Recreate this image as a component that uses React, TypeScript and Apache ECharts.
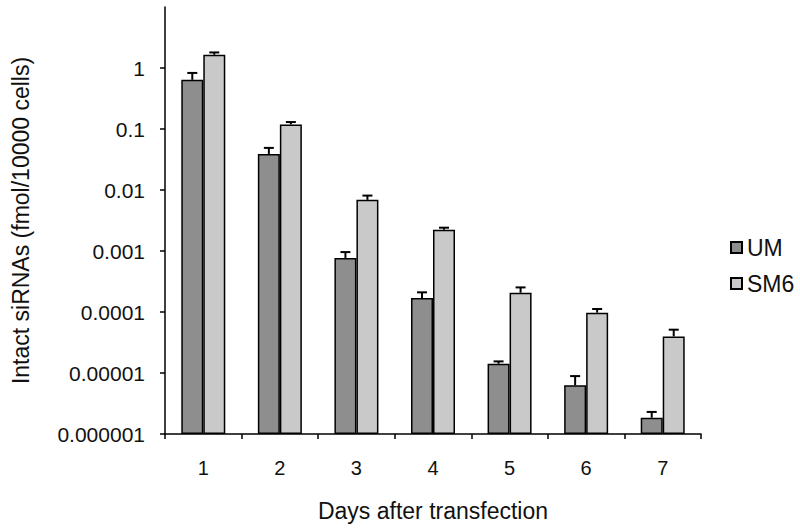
import React, { useEffect, useRef } from "react";
import * as echarts from "echarts";

const days = ["1", "2", "3", "4", "5", "6", "7"];
const umMean = [0.64, 0.039, 0.00077, 0.00017, 0.0000142, 0.0000063, 0.00000185];
const umErr = [0.19, 0.01, 0.00019, 0.00004, 0.0000013, 0.0000026, 0.00000045];
const sm6Mean = [1.65, 0.119, 0.0069, 0.00223, 0.000207, 0.0000975, 0.0000398];
const sm6Err = [0.15, 0.011, 0.0012, 0.00018, 0.000046, 0.0000145, 0.0000115];
const yTicks = [0.000001, 0.00001, 0.0001, 0.001, 0.01, 0.1, 1];

const FONT = "'Liberation Sans', Arial, Helvetica, sans-serif";
const UM_COLOR = "#8e8e8e";
const SM6_COLOR = "#c9c9c9";
const BAR_W = 22;

function fmt(v: number): string {
  const e = Math.round(Math.log10(v));
  if (e > 0) return "";
  if (e === 0) return "1";
  return Number("1e" + e).toFixed(-e);
}

function errSeries(name: string, means: number[], errs: number[], offset: number) {
  return {
    name: name + " err",
    type: "custom",
    z: 5,
    silent: true,
    data: means.map((m, i) => [i, m, m + errs[i]]),
    encode: { x: 0, y: 2 },
    renderItem: (params: any, api: any) => {
      const base = api.coord([api.value(0), api.value(1)]);
      const top = api.coord([api.value(0), api.value(2)]);
      const x = base[0] + offset;
      const cap = 5;
      return {
        type: "group",
        children: [
          {
            type: "line",
            shape: { x1: x, y1: base[1], x2: x, y2: top[1] },
            style: { stroke: "#000", lineWidth: 2 },
          },
          {
            type: "line",
            shape: { x1: x - cap, y1: top[1], x2: x + cap, y2: top[1] },
            style: { stroke: "#000", lineWidth: 2 },
          },
        ],
      };
    },
  };
}

export default function App() {
  const ref = useRef<HTMLDivElement>(null);
  useEffect(() => {
    if (!ref.current) return;
    const chart = echarts.init(ref.current, null, { renderer: "svg" });
    chart.setOption({
      animation: false,
      backgroundColor: "#ffffff",
      textStyle: { fontFamily: FONT },
      grid: { left: 165, right: 99, top: 7, bottom: 96, containLabel: false },
      legend: {
        orient: "vertical",
        left: 725,
        top: 231,
        itemWidth: 11,
        itemHeight: 11,
        itemGap: 13,
        icon: "rect",
        data: ["UM", "SM6"],
        textStyle: { fontFamily: FONT, fontSize: 23, color: "#111" },
      },
      xAxis: {
        type: "category",
        data: days,
        name: "Days after transfection",
        nameLocation: "middle",
        nameGap: 65,
        nameTextStyle: { fontFamily: FONT, fontSize: 23, color: "#111" },
        axisLine: { lineStyle: { color: "#000", width: 1.5 } },
        axisTick: { show: true, length: 5, lineStyle: { color: "#000", width: 1.5 } },
        axisLabel: { fontFamily: FONT, fontSize: 20, color: "#111", margin: 24 },
      },
      yAxis: {
        type: "log",
        logBase: 10,
        min: 0.000001,
        max: 10,
        startValue: 0.000001,
        name: "Intact siRNAs (fmol/10000 cells)",
        nameLocation: "middle",
        nameGap: 133,
        nameRotate: 90,
        nameTextStyle: { fontFamily: FONT, fontSize: 23, color: "#111" },
        splitLine: { show: false },
        axisLine: { show: true, lineStyle: { color: "#000", width: 1.5 } },
        axisTick: {
          show: true,
          length: 5,
          lineStyle: { color: "#000", width: 1.5 },
          customValues: yTicks,
        },
        axisLabel: {
          fontFamily: FONT,
          fontSize: 21,
          color: "#111",
          margin: 20,
          customValues: yTicks,
          formatter: (v: number) => fmt(v),
        },
      },
      series: [
        {
          name: "UM",
          type: "bar",
          data: umMean,
          barWidth: BAR_W,
          barGap: "0%",
          itemStyle: { color: UM_COLOR, borderColor: "#000", borderWidth: 1.5 },
        },
        {
          name: "SM6",
          type: "bar",
          data: sm6Mean,
          barWidth: BAR_W,
          barGap: "0%",
          itemStyle: { color: SM6_COLOR, borderColor: "#000", borderWidth: 1.5 },
        },
        errSeries("UM", umMean, umErr, -BAR_W / 2),
        errSeries("SM6", sm6Mean, sm6Err, BAR_W / 2),
      ],
    });
    return () => chart.dispose();
  }, []);
  return (
    <div
      ref={ref}
      style={{ position: "fixed", left: 0, top: 0, width: 800, height: 530 }}
    />
  );
}
